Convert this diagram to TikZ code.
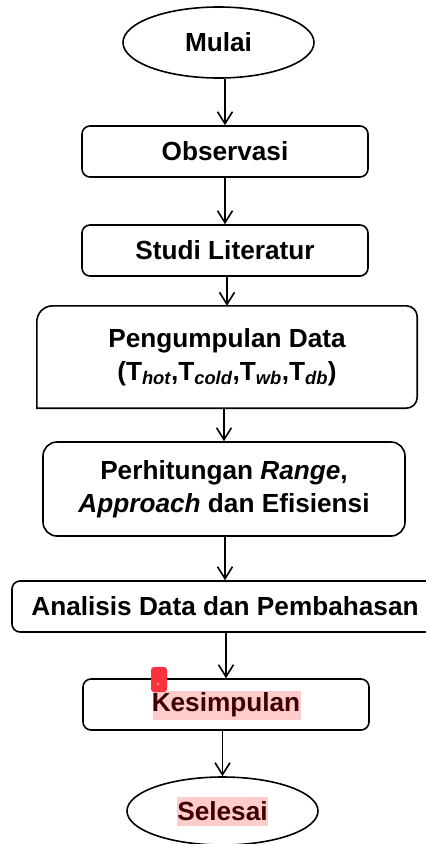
\documentclass[tikz,border=0pt]{standalone}
\usepackage{fontspec}
\setmainfont{Liberation Sans}
\usetikzlibrary{arrows.meta,shapes.geometric}
\definecolor{hlpink}{RGB}{255,204,204}
\definecolor{hltext}{RGB}{64,0,0}
\definecolor{markred}{RGB}{250,50,60}
\begin{document}
\begin{tikzpicture}[x=1pt,y=1pt,
  every node/.style={font=\bfseries\fontsize{26.2}{33}\selectfont, inner sep=0pt, align=center},
  lw/.style={line width=1.6pt},
  procbox/.style={lw, draw, rounded corners=8pt, minimum height=51pt},
  termnode/.style={lw, draw, ellipse, minimum width=191pt},
  arr/.style={lw, -{Straight Barb[length=12pt,width=15pt]}}]
\useasboundingbox (0,0) rectangle (426,-844);
\clip (0,0) rectangle (426,-844);
% highlights
\fill[hlpink] (153,-691) rectangle (301,-720);
\fill[hlpink] (177,-797) rectangle (268,-826);
% nodes
\node[termnode, minimum height=71pt] (mulai) at (218.5,-42.5) {Mulai};
\node[procbox, minimum width=286pt] (obs) at (225,-151.5) {Observasi};
\node[procbox, minimum width=286pt] (studi) at (225,-250.5) {Studi Literatur};
\node[minimum width=380pt, minimum height=102pt] (peng) at (227,-357)
  {Pengumpulan Data\\(T\textsubscript{\itshape hot},T\textsubscript{\itshape cold},T\textsubscript{\itshape wb},T\textsubscript{\itshape db})};
\draw[lw] (peng.south west) -- ([yshift=-16pt]peng.north west)
  arc[start angle=180,end angle=90,radius=16pt]
  -- ([xshift=-11pt]peng.north east)
  arc[start angle=90,end angle=0,radius=11pt]
  -- ([yshift=11pt]peng.south east)
  arc[start angle=0,end angle=-90,radius=11pt]
  -- cycle;
\node[procbox, rounded corners=14pt, minimum width=362pt, minimum height=94pt] (perh) at (224,-489)
  {Perhitungan \textit{Range},\\\textit{Approach} dan Efisiensi};
\node[procbox, minimum width=426pt] (anal) at (225,-606.5) {Analisis Data dan Pembahasan};
\node[procbox, minimum width=286pt, text=hltext] (kes) at (226,-704.5) {Kesimpulan};
\node[termnode, minimum height=68pt, text=hltext] (sel) at (222.5,-811) {Selesai};
% connectors
\draw[arr] (mulai.south -| obs.north) -- (obs.north);
\draw[arr] (obs.south) -- (studi.north);
\draw[arr] (studi.south -| peng.north) -- (peng.north);
\draw[arr] (peng.south -| perh.north) -- (perh.north);
\draw[arr] (perh.south -| anal.north) -- (anal.north);
\draw[arr] (anal.south -| kes.north) -- (kes.north);
\draw[arr] (kes.south -| sel.north) -- (sel.north);
% marker
\fill[markred, rounded corners=3pt] (151,-667) rectangle (167,-692);
\fill[white] (158,-684) circle (0.9pt);
\end{tikzpicture}
\end{document}
